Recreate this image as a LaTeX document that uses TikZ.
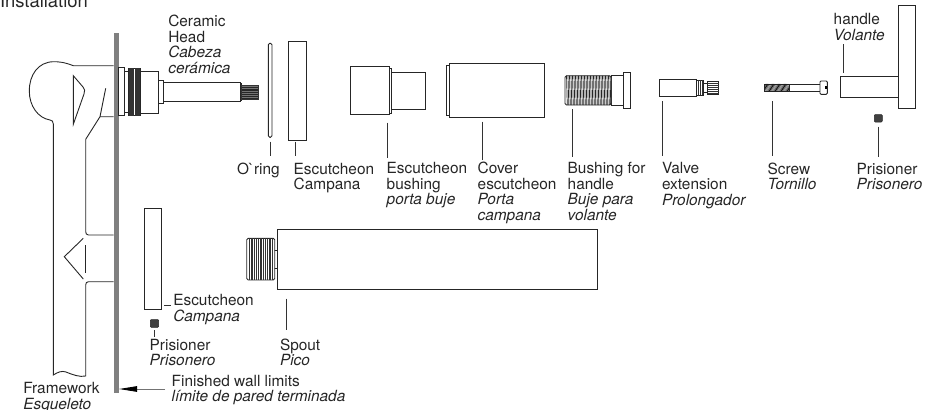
\documentclass[tikz,border=0pt]{standalone}
\usepackage{fontspec}
\setmainfont{TeX Gyre Heros}
\newfontfamily\rawfont{TeX Gyre Heros}
\usetikzlibrary{arrows.meta}
\tikzset{
  part/.style={draw=black!85,line width=0.9pt,fill=white,line join=miter},
  edge/.style={draw=black!85,line width=0.9pt},
  leader/.style={draw=black!80,line width=0.8pt},
  thread/.style={draw=black!80,line width=0.55pt},
  lab/.style={anchor=base west,inner sep=0pt,outer sep=0pt,align=left,font=\fontsize{15.4}{15.6}\selectfont,text=black!85},
  dark/.style={fill=black!75,draw=black!85,line width=0.5pt,rounded corners=1pt}
}
\begin{document}
\begin{tikzpicture}[x=1pt,y=-1pt]
\useasboundingbox (0,0) rectangle (938,410);
\clip (0,0) rectangle (938,410);
% title
\node[lab,font=\fontsize{18.4}{20}\selectfont] (title) at (0,7.5) {Installation};
% wall
\fill[black!50] (113.5,33) rectangle (118.5,393);
% framework
\draw[edge] (113.5,65.7) -- (73.3,65.7) .. controls (64,62) and (58,61.7) .. (54,61.7)
  .. controls (38,61.7) and (29.3,75) .. (29.3,91)
  .. controls (29.3,106) and (38,118) .. (50,120) .. controls (52,120.5) and (53.3,121) .. (53.3,124)
  -- (53.3,375) .. controls (58,372) and (62,370.5) .. (66,372) .. controls (72,374.5) and (80,377.5) .. (85.7,376)
  -- (85.7,285) .. controls (85.7,283) and (86.5,281.7) .. (88.5,281.7) -- (113.5,281.7);
\draw[edge] (113.5,235) -- (88.5,235) .. controls (86.5,235) and (85.7,233.5) .. (85.7,231.7) -- (85.7,139.3) -- (100,116.7) -- (113.5,116.7);
\draw[edge] (100,116.7) -- (105.7,88.3);
\draw[edge] (73.3,75.7) -- (83,87) .. controls (85,89) and (85,91) .. (84,94) -- (73.3,124.3) -- cycle;
\draw[edge] (83.3,238.3) -- (64.3,256.7) -- (83.3,279);
\draw[edge] (85.7,245) -- (85.7,272.7);
% ceramic head
\path[part] (118.5,67.7) rectangle (124.3,115.7);
\path[part] (124.3,71) rectangle (128.3,112.5);
\path[part] (140.3,71.7) rectangle (158,113.3);
\path[part] (158,80.3) rectangle (163.7,103.3);
\path[part] (163.7,82.3) rectangle (240,101.7);
\path[part] (240,83.5) rectangle (241.7,100.5);
\path[part] (128.3,68.3) rectangle (140.3,115.7);
\foreach \x in {129.3,130.4,...,140}{\draw[thread] (\x,68.3) -- (\x,115.7);}
\path[fill=black!55,draw=black!80,line width=0.6pt] (241.7,85) rectangle (258.3,99);
\foreach \y in {87,88.8,...,98}{\draw[black!85,line width=0.5pt] (241.7,\y) -- (258.3,\y);}
\node[lab] (ceramic) at (168.3,73.3) {Ceramic\\Head\\\textit{Cabeza}\\\textit{cerámica}};
% o-ring
\path[part,rounded corners=1.5pt] (268.3,43.3) rectangle (272,137.3);
\coordinate (oa) at (270,141.7); \coordinate (ob) at (270,156);
\draw[leader] (oa) -- (ob);
\node[lab] (oring) at (237,174) {{\rawfont O`ring}};
% escutcheon
\path[part] (288.7,41.3) rectangle (306.3,140);
\coordinate (ea) at (295.7,141.7); \coordinate (eb) at (295.7,156);
\draw[leader] (ea) -- (eb);
\node[lab] (esc) at (293.7,189.6) {Escutcheon\\Campana};
% escutcheon bushing
\path[part] (350.3,66.7) rectangle (389,114.3);
\path[part] (389,68) rectangle (391,113);
\path[part] (391,72.3) rectangle (425.7,109);
\coordinate (ba) at (387,122.7); \coordinate (bb) at (387,158.3);
\draw[leader] (ba) -- (bb);
\node[lab] (bush) at (386.7,204.8) {Escutcheon\\bushing\\\textit{porta buje}};
% cover
\path[part] (446.3,65.7) rectangle (449.3,115.7);
\path[part] (449.3,63.7) rectangle (544,117.3);
\coordinate (ca) at (482.7,121.7); \coordinate (cb) at (482.7,160);
\draw[leader] (ca) -- (cb);
\node[lab] (cover) at (477.7,220.4) {Cover\\escutcheon\\\textit{Porta}\\\textit{campana}};
% bushing for handle
\path[part] (611,75.7) rectangle (623.3,105);
\path[part] (623.3,72.3) rectangle (630.7,108.7);
\path[part,rounded corners=1.5pt] (565,75.7) rectangle (611,105);
\foreach \x in {566.5,568,...,610}{\draw[black!85,line width=0.7pt] (\x,75.7) -- (\x+0.8,105);}
\coordinate (ha) at (572.7,109); \coordinate (hb) at (572.7,157);
\draw[leader] (ha) -- (hb);
\node[lab] (hand) at (567.7,220.4) {Bushing for\\handle\\\textit{Buje para}\\\textit{volante}};
% valve extension
\path[part] (659,79.3) rectangle (696,96);
\path[part] (696,80.3) rectangle (703.5,95);
\path[part] (703.5,83) rectangle (707.7,92);
\path[part] (707.7,81) rectangle (718.7,94);
\foreach \x in {698,700,702}{\draw[thread] (\x,80.3) -- (\x,95);}
\foreach \y in {83,85,...,93}{\draw[thread] (707.7,\y) -- (718.7,\y);}
\coordinate (va) at (662.3,101); \coordinate (vb) at (662.3,155.7);
\draw[leader] (va) -- (vb);
\node[lab] (valve) at (662,205) {Valve\\extension\\\textit{Prolongador}};
% screw
\path[part] (789,84) rectangle (820,91.3);
\path[part,rounded corners=1pt] (820,81) rectangle (827.3,94.3);
\fill[black] (824.5,86.3) rectangle (827.3,88.8);
\path[part] (764,84) rectangle (789,91.3);
\foreach \x in {765,766.2,...,788.5}{\draw[black!90,line width=0.7pt] (\x,84) -- (\x+1,91.3);}
\coordinate (sa) at (772,101); \coordinate (sb) at (772,156);
\draw[leader] (sa) -- (sb);
\node[lab] (screw) at (767.7,189.6) {Screw\\\textit{Tornillo}};
% handle
\path[part] (840.3,76.7) rectangle (898,97.7);
\path[part] (898,5.7) rectangle (915,108.7);
\coordinate (va2) at (843.3,44); \coordinate (vb2) at (843.3,73.3);
\draw[leader] (va2) -- (vb2);
\node[lab] (handle) at (833.7,40.4) {handle\\\textit{Volante}};
% prisoner right
\path[dark] (874.3,114.5) rectangle (882.3,122);
\coordinate (pa) at (878.3,126.7); \coordinate (pb) at (878.3,156.7);
\draw[leader] (pa) -- (pb);
\node[lab] (pris) at (856.7,189.6) {Prisioner\\\textit{Prisonero}};
% lower escutcheon
\path[part] (144,208.7) rectangle (161.7,309);
\coordinate (la) at (164,305.3); \coordinate (lb) at (170.7,305.3);
\draw[leader] (la) -- (lb);
\node[lab] (lesc) at (173.3,321.3) {Escutcheon\\\textit{Campana}};
% lower prisoner
\path[dark] (150.3,319.5) rectangle (158.7,327.3);
\coordinate (lpa) at (154.3,330); \coordinate (lpb) at (154.3,336.7);
\draw[leader] (lpa) -- (lpb);
\node[lab] (lpris) at (149.7,365.6) {Prisioner\\\textit{Prisonero}};
% spout
\path[part] (273.3,250) rectangle (277.3,268.3);
\path[part] (277.3,229) rectangle (597,289);
\path[part,rounded corners=1.5pt] (246.7,238.3) rectangle (274.7,280);
\foreach \x in {249,250.8,...,274}{\draw[thread] (\x,238.3) -- (\x,280);}
\coordinate (spa) at (286.3,298.7); \coordinate (spb) at (286.3,330);
\draw[leader] (spa) -- (spb);
\node[lab] (spout) at (280,365.6) {Spout\\\textit{Pico}};
% framework label
\node[lab] (frame) at (23.3,409.4) {Framework\\\textit{Esqueleto}};
% wall limits
\node[lab] (wall) at (171.7,401.6) {Finished wall limits\\\textit{límite de pared terminada}};
\coordinate (wa) at (165,389); \coordinate (wb) at (119,389);
\draw[draw=black!55,line width=0.9pt,-{Stealth[length=18pt,width=5.5pt,inset=0pt,black]}] (wa) -- (wb);
\end{tikzpicture}
\end{document}
